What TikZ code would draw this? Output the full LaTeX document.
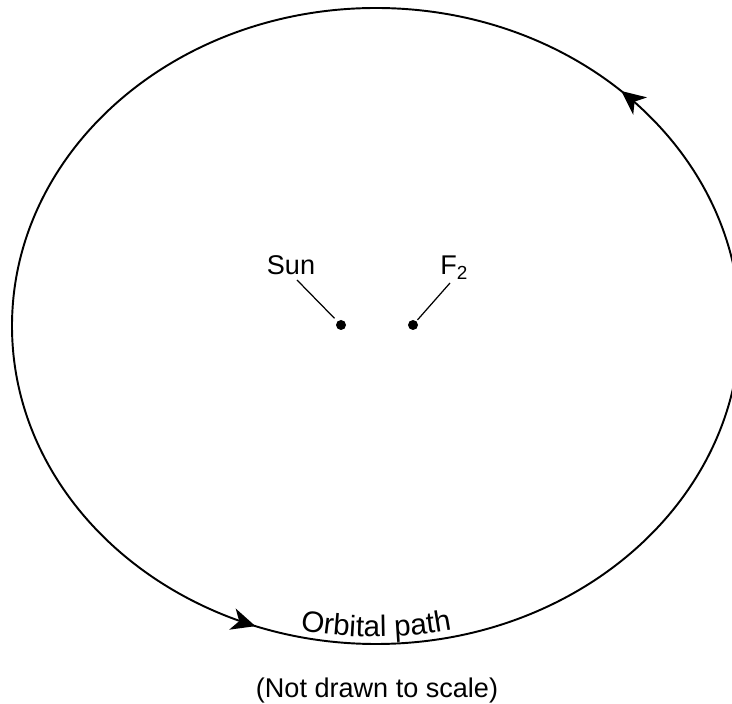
\documentclass[tikz,border=0pt]{standalone}
\usepackage{fontspec}
\setmainfont{Liberation Sans}
\usetikzlibrary{arrows.meta,decorations.markings,decorations.text}
\newcommand{\labelfont}{\fontsize{15.4}{18}\selectfont}
\newcommand{\pathfont}{\fontsize{16.8}{19}\selectfont}

\begin{document}
\begin{tikzpicture}[font=\labelfont,
	focus/.style={circle, fill=black, inner sep=0pt, minimum size=0.2cm},
	lbl/.style={inner sep=0pt},
	leader/.style={line width=0.7pt},
	orbittip/.tip={Stealth[length=0.48cm, width=0.44cm, inset=0.14cm]}]
	\useasboundingbox (0,0) rectangle (14.64,14.06);
	\coordinate (C) at (7.52,7.54);
	% orbit with direction marks
	\draw[line width=1.1pt, postaction={decorate, decoration={markings,
		mark=at position 0.127 with {\arrow{orbittip}},
		mark=at position 0.693 with {\arrow{orbittip}}}}] (C) ellipse [x radius=7.28, y radius=6.36];
	\path[shift={(C)}, decorate, decoration={text along path, text={|\pathfont|Orbital path}, text align=center}]
		(240:7.14 and 6.22) arc [start angle=240, end angle=300, x radius=7.14, y radius=6.22];
	% foci
	\node[focus] (sun) at (6.82,7.56) {};
	\node[focus] (f2) at (8.26,7.56) {};
	\node[lbl, anchor=base] (sunlbl) at (5.82,8.56) {Sun};
	\node[lbl, anchor=base west] (f2lbl) at (8.80,8.56) {F\textsubscript{2}};
	\coordinate (sunend) at (5.94,8.46);
	\coordinate (f2end) at (9.00,8.40);
	\draw[leader, shorten >=0.08cm] (sunend) -- (sun);
	\draw[leader, shorten >=0.03cm] (f2end) -- (f2);
	\node[lbl, anchor=base] (note) at (7.54,0.12) {(Not drawn to scale)};
\end{tikzpicture}
\end{document}
